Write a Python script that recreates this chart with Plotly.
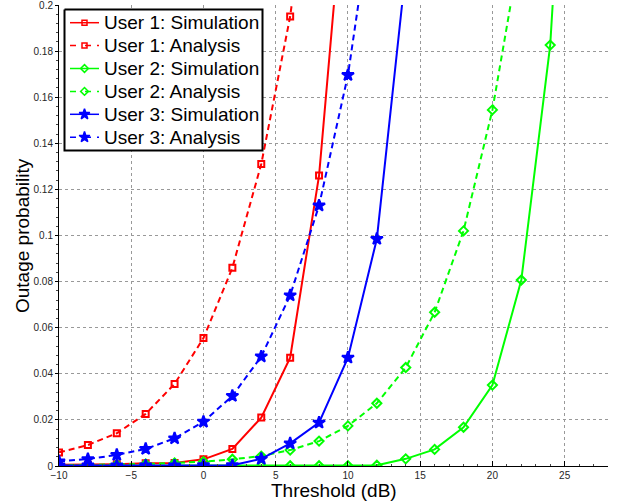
import plotly.graph_objects as go

x = [-10, -8, -6, -4, -2, 0, 2, 4, 6, 8, 10, 12, 14, 16, 18, 20, 22, 24, 26]

u1_sim = [0.0005, 0.0005, 0.0008, 0.0012, 0.0013, 0.0029, 0.0074, 0.021, 0.047, 0.126, 0.27]
u1_ana = [0.0059, 0.0091, 0.0142, 0.0226, 0.0356, 0.0555, 0.086, 0.131, 0.195, 0.29]
u2_sim = [0.0001, 0.0001, 0.0001, 0.0001, 0.0001, 0.0001, 0.0001, 0.0001, 0.0001, 0.0001, 0.0001,
          0.0003, 0.0031, 0.0072, 0.0168, 0.0351, 0.0807, 0.1826, 0.39]
u2_ana = [0.0003, 0.0004, 0.0006, 0.0009, 0.0013, 0.0019, 0.0029, 0.0043, 0.0069, 0.0108, 0.0174,
          0.0272, 0.0427, 0.0667, 0.102, 0.1545, 0.227]
u3_sim = [0.0002, 0.0002, 0.0002, 0.0002, 0.0002, 0.0003, 0.0003, 0.0031, 0.0098, 0.0188, 0.047,
          0.0985, 0.215]
u3_ana = [0.002, 0.003, 0.0048, 0.0074, 0.012, 0.0192, 0.0304, 0.0475, 0.074, 0.113, 0.1696, 0.255]

x_ticks = [-10, -5, 0, 5, 10, 15, 20, 25]
x_ticktext = ["\u221210", "\u22125", "0", "5", "10", "15", "20", "25"]
y_ticks = [0, 0.02, 0.04, 0.06, 0.08, 0.1, 0.12, 0.14, 0.16, 0.18, 0.2]
y_ticktext = ["0", "0.02", "0.04", "0.06", "0.08", "0.1", "0.12", "0.14", "0.16", "0.18", "0.2"]

series = [
    ("User 1: Simulation", u1_sim, "#ff0000", "solid", "square-open", 6),
    ("User 1: Analysis", u1_ana, "#ff0000", "dash", "square-open", 6),
    ("User 2: Simulation", u2_sim, "#00ff00", "solid", "diamond-open", 7),
    ("User 2: Analysis", u2_ana, "#00ff00", "dash", "diamond-open", 7),
    ("User 3: Simulation", u3_sim, "#0000ff", "solid", "star", 9),
    ("User 3: Analysis", u3_ana, "#0000ff", "dash", "star", 9),
]

W, H = 618, 503
L, R, T, B = 59, 10, 5, 37
PX0, PX1, PY0, PY1 = L, W - R, T, H - B  # plot area in pixels

fig = go.Figure()
for name, ys, color, dash, sym, size in series:
    fig.add_trace(go.Scatter(
        x=x[:len(ys)], y=ys, name=name, mode="lines+markers", showlegend=False,
        line=dict(color=color, width=2, dash="solid" if dash == "solid" else "6px,4px"),
        marker=dict(symbol=sym, size=size, color=color, line=dict(color=color, width=2)),
    ))

# --- MATLAB-style legend drawn on an overlay axis measured in pixels ---
box_l, box_t, box_r, box_b = 64.5, 9.5, 262.5, 150.5
row0, row_gap = 22.7, 22.9
fig.add_trace(go.Scatter(
    x=[box_l, box_r, box_r, box_l, box_l], y=[box_t, box_t, box_b, box_b, box_t],
    xaxis="x2", yaxis="y2", mode="lines", fill="toself", fillcolor="white",
    line=dict(color="black", width=2), showlegend=False, hoverinfo="skip",
))
annotations = []
for i, (name, ys, color, dash, sym, size) in enumerate(series):
    ry = row0 + i * row_gap
    fig.add_trace(go.Scatter(
        x=[70, 99], y=[ry, ry], xaxis="x2", yaxis="y2", mode="lines",
        line=dict(color=color, width=1.5, dash="solid" if dash == "solid" else "6px,9px,6px"),
        showlegend=False, hoverinfo="skip",
    ))
    fig.add_trace(go.Scatter(
        x=[84.5], y=[ry], xaxis="x2", yaxis="y2", mode="markers",
        marker=dict(symbol=sym, size=size - 1, color=color, line=dict(color=color, width=1.5)),
        showlegend=False, hoverinfo="skip",
    ))
    annotations.append(dict(
        x=101.5, y=ry, xref="x2", yref="y2", text=name, showarrow=False,
        xanchor="left", yanchor="middle", font=dict(size=19, color="black"),
    ))

annotations.append(dict(
    x=0.5, y=(PY1 - 490) / (PY1 - PY0), xref="paper", yref="paper", text="Threshold (dB)",
    showarrow=False, xanchor="center", yanchor="middle", font=dict(size=19, color="black"),
))
annotations.append(dict(
    x=(22.5 - PX0) / (PX1 - PX0), y=0.5, xref="paper", yref="paper", text="Outage probability",
    showarrow=False, xanchor="center", yanchor="middle", textangle=-90,
    font=dict(size=19, color="black"),
))

tick_font = dict(family="Liberation Sans, Arial, sans-serif", size=10, color="#262626")
fig.update_layout(
    width=W, height=H,
    margin=dict(l=L, r=R, t=T, b=B),
    paper_bgcolor="white", plot_bgcolor="white",
    font=dict(family="Liberation Sans, Arial, sans-serif", color="black"),
    showlegend=False,
    annotations=annotations,
    xaxis=dict(
        range=[-10, 28], tickvals=x_ticks, ticktext=x_ticktext,
        showgrid=True, gridcolor="#999999", griddash="dot", gridwidth=1,
        showline=True, linecolor="black", linewidth=1,
        ticks="inside", ticklen=5, tickcolor="black",
        minor=dict(ticks="inside", ticklen=2, dtick=1, tickcolor="#444", showgrid=False),
        tickfont=tick_font, zeroline=False, automargin=False, ticklabeloverflow="allow",
    ),
    yaxis=dict(
        range=[0, 0.2], tickvals=y_ticks, ticktext=y_ticktext,
        showgrid=True, gridcolor="#999999", griddash="dot", gridwidth=1,
        showline=True, linecolor="black", linewidth=1,
        ticks="outside", ticklen=3, tickcolor="black",
        minor=dict(ticks="outside", ticklen=2, dtick=0.004, tickcolor="#444", showgrid=False),
        tickfont=tick_font, zeroline=False, automargin=False, ticklabeloverflow="allow",
    ),
    xaxis2=dict(overlaying="x", range=[PX0, PX1], visible=False, fixedrange=True),
    yaxis2=dict(overlaying="y", range=[PY1, PY0], visible=False, fixedrange=True),
)

fig.write_html("out.html", config={"displayModeBar": False},
               post_script="document.body.style.margin='0px';")
